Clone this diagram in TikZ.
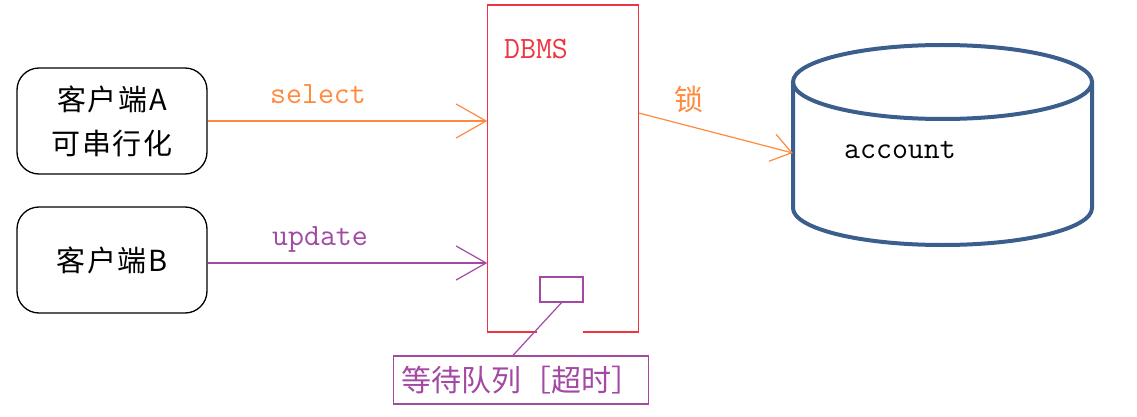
\documentclass[tikz,border=0pt]{standalone}
\usepackage{fontspec}
\newfontfamily\cjk{Noto Sans CJK SC}
\newfontfamily\cjkwide[LetterSpace=6]{Noto Sans CJK SC}
\usetikzlibrary{arrows.meta}
\definecolor{orng}{HTML}{FF8A3D}
\definecolor{purp}{HTML}{A349A4}
\definecolor{dbred}{HTML}{EE3440}
\definecolor{cylblue}{HTML}{3B5E8C}
\tikzset{
  client/.style={draw=black, line width=1.3pt, rounded corners=22pt, minimum width=190pt, minimum height=106pt, inner sep=0pt, align=center, font=\cjkwide\fontsize{29}{44}\selectfont},
  mono/.style={font=\ttfamily\fontsize{31}{31}\selectfont, inner sep=0pt},
  cjklab/.style={font=\cjk\fontsize{29}{29}\selectfont, inner sep=0pt},
  conn/.style={line width=1.2pt, -{Straight Barb[length=30pt,width=34pt]}},
  cyl/.style={draw=cylblue, line width=4pt},
}
\begin{document}
\begin{tikzpicture}[x=1pt,y=-1pt]
\useasboundingbox (0,0) rectangle (1137,417);
% clients
\node[client] (a) at (112,121) {客户端A\\可串行化};
\node[client] (b) at (112,260) {客户端B};
% DBMS box
\node[minimum width=151pt, minimum height=327pt, inner sep=0pt] (dbms) at (563,168.5) {};
\draw[dbred, line width=1.5pt] ([xshift=50pt]dbms.south west) -- (dbms.south west) -- (dbms.north west) -- (dbms.north east) -- (dbms.south east) -- ([xshift=-56pt]dbms.south east);
\node[mono, text=dbred, anchor=base] (dbt) at (536,59) {DBMS};
% queue
\node[draw=purp, line width=1.3pt, minimum width=43pt, minimum height=25pt, inner sep=0pt] (q) at (561.5,289.5) {};
\node[draw=purp, line width=1.3pt, minimum width=255pt, minimum height=48pt, inner sep=0pt, font=\cjk\fontsize{30}{30}\selectfont, text=purp] (wait) at (521,380) {等待队列［超时］};
\draw[purp, line width=1.2pt] (q.south) -- ([xshift=-8pt]wait.north);
% cylinder
\node[minimum width=299pt, minimum height=200pt, inner sep=0pt] (db) at (942.5,145) {};
\draw[cyl] (793,82) -- (793,208) arc[start angle=180, end angle=0, x radius=149.5, y radius=37] -- (1092,82);
\draw[cyl] (942.5,82) ellipse[x radius=149.5, y radius=37];
\node[mono, anchor=base] (acc) at (900,158) {account};
% arrows
\draw[conn, orng] (a.east) -- (a.east -| dbms.west);
\node[mono, text=orng] (sel) at (318,94) {select};
\coordinate (bo) at ([yshift=-3pt]b.east);
\draw[conn, purp] (bo) -- (bo -| dbms.west);
\node[mono, text=purp, anchor=base] (upd) at (320,245) {update};
\draw[orng, line width=1.2pt, -{Straight Barb[length=20pt,width=28pt]}] ([yshift=55.5pt]dbms.east) -- ([yshift=-8pt]db.west);
\node[cjklab, text=orng] (lock) at (689,99) {锁};
\end{tikzpicture}
\end{document}
